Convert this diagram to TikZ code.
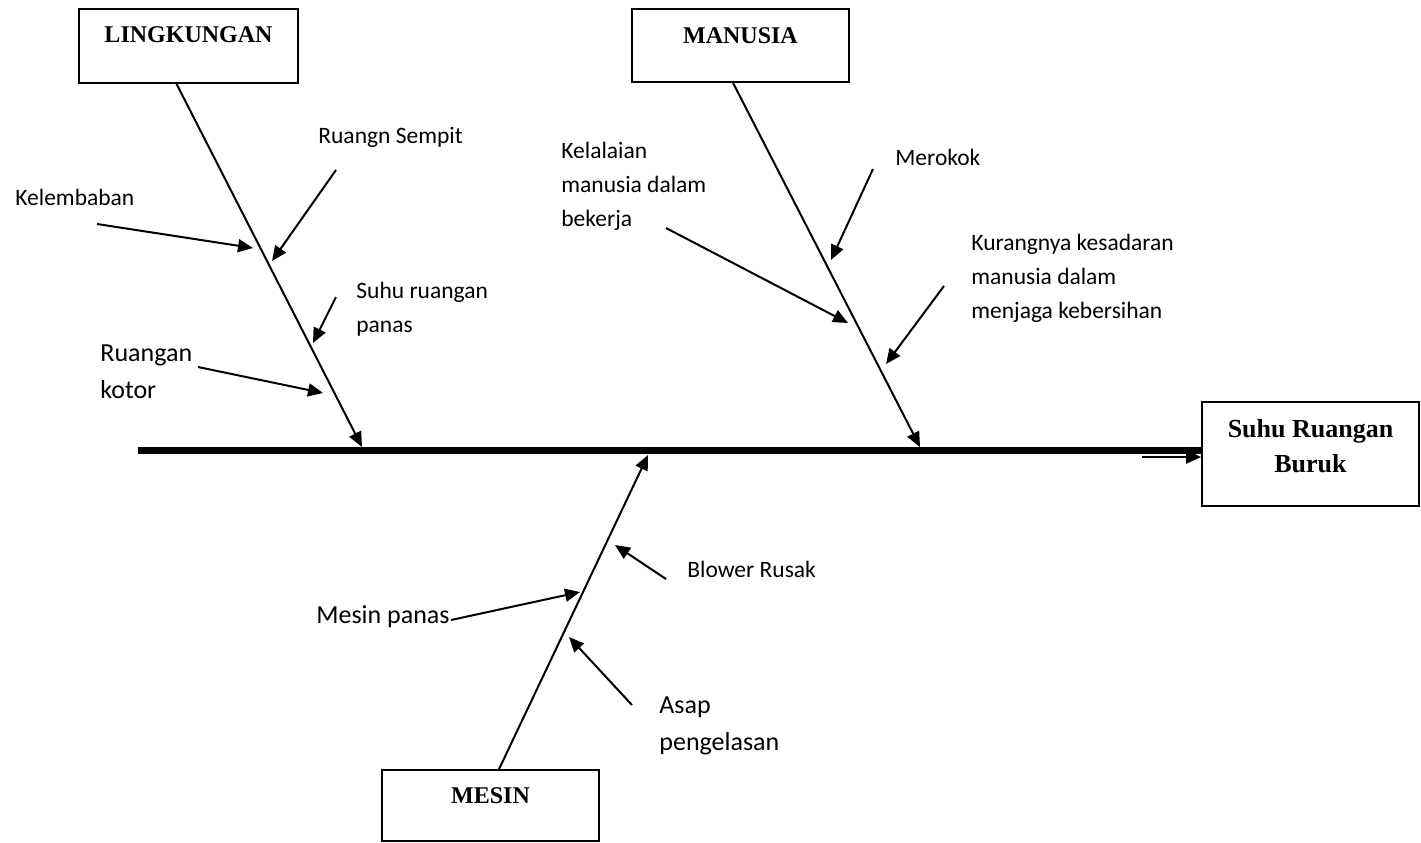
\documentclass[tikz,border=0pt]{standalone}
\usepackage{fontspec}
\setmainfont{Carlito}
\newfontfamily\timesfont{Liberation Serif}
\usetikzlibrary{arrows.meta}

\tikzset{
  kotak/.style={draw, line width=0.8pt, inner sep=0pt},
  judul/.style={font=\timesfont\bfseries\fontsize{12}{15}\selectfont, inner sep=0pt, anchor=base, align=center},
  sebab/.style={font=\fontsize{11.75}{17}\selectfont, inner sep=0pt, anchor=base west, align=left},
  sebabbesar/.style={font=\fontsize{13}{18.5}\selectfont, inner sep=0pt, anchor=base west, align=left},
  tulang/.style={line width=1pt, -{Triangle[length=7.5pt,width=6.5pt]}},
  panah/.style={line width=1pt, -{Triangle[length=7.5pt,width=6.5pt]}},
}

\begin{document}
\begin{tikzpicture}[x=0.5pt, y=-0.5pt]
    \useasboundingbox (0,0) rectangle (1421,842);

    % kotak kategori
    \node[kotak, minimum width=109.5pt, minimum height=37pt] (lingkungan) at (188.5,46) {};
    \node[judul] (lingkunganT) at (188.5,42) {LINGKUNGAN};
    \node[kotak, minimum width=108.5pt, minimum height=36.5pt] (manusia) at (740.5,45.5) {};
    \node[judul] (manusiaT) at (740.5,43) {MANUSIA};
    \node[kotak, minimum width=108.5pt, minimum height=35.5pt] (mesin) at (490.5,805.5) {};
    \node[judul] (mesinT) at (490.5,803) {MESIN};
    \node[kotak, minimum width=108.5pt, minimum height=52pt] (akibat) at (1310.5,454) {};
    % baris terakhir jadi patokan base
    \node[judul, font=\timesfont\bfseries\fontsize{13}{17.5}\selectfont] (akibatT) at (1310.5,472) {Suhu Ruangan\\Buruk};

    % tulang utama
    \coordinate (ekor) at (138,450.5);
    \draw[line width=3.5pt] (ekor) -- (ekor -| akibat.west);
    \coordinate (masuk) at (1142,457);
    \draw[panah] (masuk) -- (masuk -| akibat.west);

    % tulang kategori
    \coordinate (ujungL) at (362,447);
    \coordinate (ujungM) at (920,447);
    \coordinate (ujungS) at (648,455);
    \draw[tulang] ([xshift=-6pt]lingkungan.south) -- (ujungL);
    \draw[tulang] ([xshift=-3.75pt]manusia.south) -- (ujungM);
    \draw[tulang] ([xshift=4.25pt]mesin.north) -- (ujungS);

    % lingkungan
    \node[sebab] (kelembaban) at (15,205) {Kelembaban};
    \coordinate (kelembabanA) at (97,224);
    \coordinate (kelembabanB) at (253,248);
    \draw[panah] (kelembabanA) -- (kelembabanB);
    \node[sebab] (sempit) at (318,143) {Ruangn Sempit};
    \coordinate (sempitA) at (336,170);
    \coordinate (sempitB) at (272,261);
    \draw[panah] (sempitA) -- (sempitB);
    \node[sebab] (panas) at (356,332) {Suhu ruangan\\panas};
    \coordinate (panasA) at (336,297);
    \coordinate (panasB) at (313,343);
    \draw[panah] (panasA) -- (panasB);
    \node[sebabbesar] (kotor) at (100,398) {Ruangan\\kotor};
    \coordinate (kotorA) at (198,367);
    \coordinate (kotorB) at (323,393);
    \draw[panah] (kotorA) -- (kotorB);

    % manusia
    \node[sebab] (kelalaian) at (561,226) {Kelalaian\\manusia dalam\\bekerja};
    \coordinate (kelalaianA) at (666,228);
    \coordinate (kelalaianB) at (848,323);
    \draw[panah] (kelalaianA) -- (kelalaianB);
    \node[sebab] (merokok) at (895,165) {Merokok};
    \coordinate (merokokA) at (873,169);
    \coordinate (merokokB) at (831,260);
    \draw[panah] (merokokA) -- (merokokB);
    \node[sebab] (kesadaran) at (971,318) {Kurangnya kesadaran\\manusia dalam\\menjaga kebersihan};
    \coordinate (kesadaranA) at (944,286);
    \coordinate (kesadaranB) at (886,364);
    \draw[panah] (kesadaranA) -- (kesadaranB);

    % mesin
    \node[sebab] (blower) at (687,577) {Blower Rusak};
    \coordinate (blowerA) at (666,579);
    \coordinate (blowerB) at (615,545);
    \draw[panah] (blowerA) -- (blowerB);
    \node[sebabbesar] (mesinpanas) at (316,623) {Mesin panas};
    \coordinate (mesinpanasA) at (451,620);
    \coordinate (mesinpanasB) at (580,592);
    \draw[panah] (mesinpanasA) -- (mesinpanasB);
    \node[sebabbesar] (asap) at (659,750) {Asap\\pengelasan};
    \coordinate (asapA) at (632,705);
    \coordinate (asapB) at (569,637);
    \draw[panah] (asapA) -- (asapB);
\end{tikzpicture}
\end{document}
